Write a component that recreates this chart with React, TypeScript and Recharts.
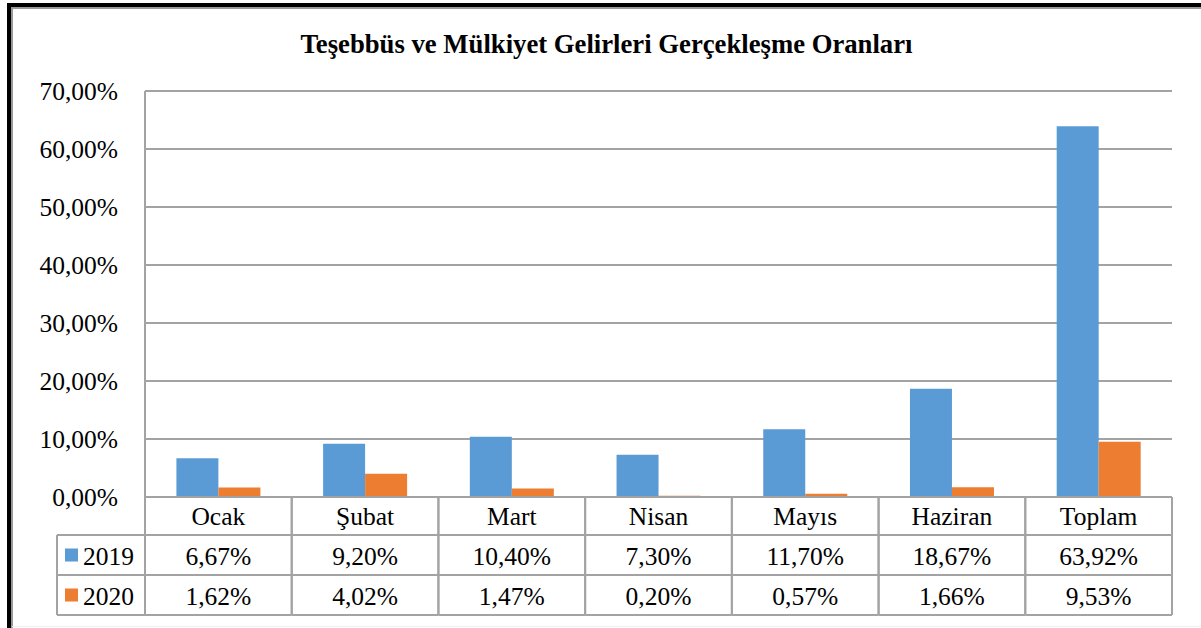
import React from "react";
import { BarChart, Bar, XAxis, YAxis, CartesianGrid } from "recharts";

const categories = ["Ocak", "Şubat", "Mart", "Nisan", "Mayıs", "Haziran", "Toplam"];
const values2019 = [6.67, 9.2, 10.4, 7.3, 11.7, 18.67, 63.92];
const values2020 = [1.62, 4.02, 1.47, 0.2, 0.57, 1.66, 9.53];
const seriesNames = ["2019", "2020"];
const seriesColors = ["#5B9BD5", "#ED7D31"];
const yTicks = [0, 10, 20, 30, 40, 50, 60, 70];

const W = 1201;
const H = 628;
const margin = { top: 91, right: 29, bottom: 13, left: 0 };
const yAxisWidth = 145;
const rowHeights = [38, 40, 40];
const tableHeight = rowHeights[0] + rowHeights[1] + rowHeights[2];
const legendColWidth = 88;
const bandWidth = (W - margin.left - margin.right - yAxisWidth) / categories.length;

const FONT = "'Liberation Serif', 'Times New Roman', serif";
const LINE = "#A3A3A3";

const fmt = (v: number) => v.toFixed(2).replace(".", ",") + "%";

const data = categories.map((c, i) => ({ name: c, y2019: values2019[i], y2020: values2020[i] }));

// x axis tick draws one column of the data table under the plot
const TableTick = (props: any) => {
  const { x, y, index, payload } = props;
  const left = x - bandWidth / 2;
  const right = x + bandWidth / 2;
  const r1 = y + rowHeights[0];
  const r2 = r1 + rowHeights[1];
  const r3 = r2 + rowHeights[2];
  const txt = { fontFamily: FONT, fontSize: 25.5, fill: "#000" };
  const ln = { stroke: LINE, strokeWidth: 2 };
  return (
    <g>
      <line x1={left} y1={y} x2={left} y2={r3} {...ln} />
      <line x1={right} y1={y} x2={right} y2={r3} {...ln} />
      <line x1={left} y1={r1} x2={right} y2={r1} {...ln} />
      <line x1={left} y1={r2} x2={right} y2={r2} {...ln} />
      <line x1={left} y1={r3} x2={right} y2={r3} {...ln} />
      <text x={x} y={y + 28} textAnchor="middle" {...txt}>{payload.value}</text>
      <text x={x} y={r1 + 30} textAnchor="middle" {...txt}>{fmt(values2019[index])}</text>
      <text x={x} y={r2 + 30} textAnchor="middle" {...txt}>{fmt(values2020[index])}</text>
      {index === 0 && (
        <g>
          <line x1={left - legendColWidth} y1={r1} x2={left} y2={r1} {...ln} />
          <line x1={left - legendColWidth} y1={r2} x2={left} y2={r2} {...ln} />
          <line x1={left - legendColWidth} y1={r3} x2={left} y2={r3} {...ln} />
          <line x1={left - legendColWidth} y1={r1} x2={left - legendColWidth} y2={r3} {...ln} />
          {seriesNames.map((s, i) => {
            const top = i === 0 ? r1 : r2;
            return (
              <g key={s}>
                <rect x={left - legendColWidth + 8} y={top + 13.5} width={13} height={13} fill={seriesColors[i]} />
                <text x={left - legendColWidth + 26} y={top + 30} {...txt}>{s}</text>
              </g>
            );
          })}
        </g>
      )}
    </g>
  );
};

export default function App() {
  return (
    <div style={{ position: "absolute", left: 0, top: 0, width: W, height: H, background: "#fff", overflow: "hidden" }}>
      {/* document frame */}
      <div style={{ position: "absolute", left: 7, top: 3, width: W - 7, height: 4, background: "#000" }} />
      <div style={{ position: "absolute", left: 7, top: 3, width: 4, height: H - 3, background: "#000" }} />
      <div style={{ position: "absolute", left: 11, top: 7, width: W - 11, height: 1.5, background: "#999" }} />
      <div style={{ position: "absolute", left: 11, top: 7, width: 1.5, height: H - 7, background: "#999" }} />
      <div style={{ position: "absolute", left: 12, top: 626, width: W - 12, height: 1, background: "#eee" }} />
      <div
        style={{
          position: "absolute",
          left: 12,
          width: W - 12,
          top: 31,
          textAlign: "center",
          fontFamily: FONT,
          fontWeight: "bold",
          fontSize: 26.7,
          lineHeight: "26px",
          color: "#000",
        }}
      >
        Teşebbüs ve Mülkiyet Gelirleri Gerçekleşme Oranları
      </div>
      <BarChart width={W} height={H} data={data} margin={margin} barCategoryGap="21.4%" barGap={0}>
        <CartesianGrid horizontal vertical={false} stroke={LINE} strokeWidth={2} />
        <XAxis
          dataKey="name"
          height={tableHeight}
          interval={0}
          tickLine={false}
          tickSize={0}
          tickMargin={0}
          axisLine={{ stroke: LINE, strokeWidth: 2 }}
          tick={<TableTick />}
        />
        <YAxis
          width={yAxisWidth}
          domain={[0, 70]}
          ticks={yTicks}
          interval={0}
          tickFormatter={fmt}
          tickLine={false}
          tickSize={0}
          tickMargin={27}
          axisLine={{ stroke: LINE, strokeWidth: 2 }}
          tick={{ fontFamily: FONT, fontSize: 25.5, fill: "#000" }}
        />
        <Bar dataKey="y2019" name={seriesNames[0]} fill={seriesColors[0]} isAnimationActive={false} />
        <Bar dataKey="y2020" name={seriesNames[1]} fill={seriesColors[1]} isAnimationActive={false} />
      </BarChart>
    </div>
  );
}
